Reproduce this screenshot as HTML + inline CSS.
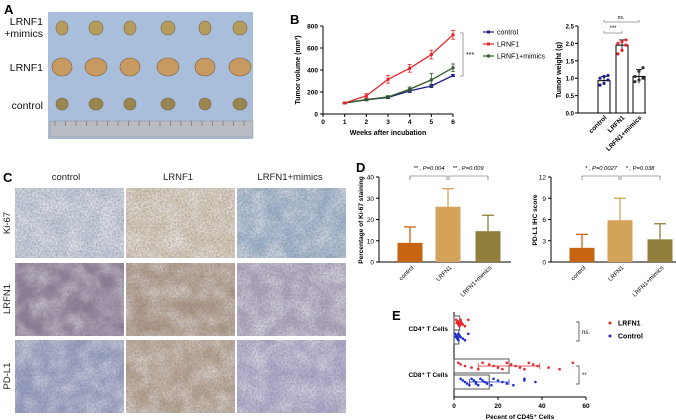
<!DOCTYPE html>
<html><head><meta charset="utf-8"><style>
body{margin:0;background:#fff}
svg{display:block;font-family:"Liberation Sans",Arial,sans-serif}
</style></head><body>
<svg id="fig" width="676" height="420" viewBox="0 0 676 420">
<defs>
<filter id="tex" x="0" y="0" width="100%" height="100%">
<feTurbulence type="fractalNoise" baseFrequency="0.55" numOctaves="2" seed="3"/>
<feColorMatrix type="matrix" values="0 0 0 0 0.2  0 0 0 0 0.18  0 0 0 0 0.25  0 0 0 -2.2 1.5"/>
<feComposite in2="SourceGraphic" operator="in"/>
</filter>
<filter id="tex2" x="0" y="0" width="100%" height="100%">
<feTurbulence type="fractalNoise" baseFrequency="0.06" numOctaves="3" seed="8"/>
<feColorMatrix type="matrix" values="0 0 0 0 1  0 0 0 0 1  0 0 0 0 1  0 0 0 -1.5 1.1"/>
<feComposite in2="SourceGraphic" operator="in"/>
</filter>
</defs>

<!-- Panel A -->
<g>
<text x="4" y="14" font-size="13" font-weight="bold">A</text>
<rect x="48" y="12" width="205" height="127" fill="#a9bedb"/>
<rect x="50" y="121" width="203" height="16" fill="#b9bcc2" stroke="#8d939c" stroke-width="0.5"/>
<g id="tumors"></g>
<g font-size="10.5" text-anchor="end" fill="#111">
<text x="43" y="25">LRNF1</text>
<text x="43" y="37">+mimics</text>
<text x="43" y="71">LRNF1</text>
<text x="43" y="109">control</text>
</g>
</g>

<!-- Panel B -->
<g>
<text x="290" y="24" font-size="13" font-weight="bold">B</text>
<g id="lineChart"></g>
<g id="weightChart"></g>
</g>

<!-- Panel C -->
<g>
<text x="3" y="182" font-size="13" font-weight="bold">C</text>
<g font-size="9.5" text-anchor="middle" fill="#222">
<text x="66" y="180">control</text>
<text x="178" y="180">LRNF1</text>
<text x="290" y="180">LRFN1+mimics</text>
</g>
<g font-size="9.5" text-anchor="middle" fill="#222">
<text transform="translate(10,223) rotate(-90)">Ki-67</text>
<text transform="translate(10,299) rotate(-90)">LRFN1</text>
<text transform="translate(10,376) rotate(-90)">PD-L1</text>
</g>
<g id="ihc"></g>
</g>

<!-- Panel D -->
<g>
<text x="356" y="172" font-size="13" font-weight="bold">D</text>
<g id="dLeft"></g>
<g id="dRight"></g>
</g>

<!-- Panel E -->
<g>
<text x="392" y="320" font-size="13" font-weight="bold">E</text>
<g id="eChart"></g>
</g>
</svg>

<script>
// ---- data ----
const weeks = [1,2,3,4,5,6];
const volControl = [100,130,150,210,255,350];
const volControlErr = [5,8,10,15,15,10];
const volLRNF1 = [100,165,315,415,540,720];
const volLRNF1Err = [5,20,35,35,40,40];
const volMimics = [100,130,155,225,310,420];
const volMimicsErr = [5,8,12,20,60,35];
const volTicks = [0,200,400,600,800];
const weekTicks = [0,1,2,3,4,5,6];

const weightGroups = ["control","LRFN1","LRFN1+mimics"];
const weightMeans = [0.93,1.95,1.05];
const weightSD = [0.12,0.15,0.2];
const weightPtsControl = [0.8,0.85,0.95,1.0,1.05,1.08];
const weightPtsLRFN1 = [1.7,1.8,1.95,2.0,2.05,2.1];
const weightPtsMimics = [0.9,0.95,1.0,1.05,1.2,1.3];
const weightTicks = [0,0.5,1.0,1.5,2.0,2.5];

const ki67Groups = ["control","LRFN1","LRFN1+mimics"];
const ki67Means = [9,26,14.5];
const ki67SD = [7.5,8.5,7.5];
const ki67Ticks = [0,10,20,30,40];
const pdl1Means = [2,5.9,3.2];
const pdl1SD = [1.9,3.1,2.2];
const pdl1Ticks = [0,3,6,9,12];

const cd4Red = [1,1.5,2,2,2.5,3,3,3.5,4,5,6.5,2.2,1.2,2.8];
const cd4Blue = [0.5,1,1.5,1.5,2,2,2.5,3,4,5,6.5,1.2,0.8];
const cd8Red = [2,3,5,8,11,13,16,18,20,22,24,26,28,30,32,34,36,38,43,48,54];
const cd8Blue = [3,4,5,6,7,8,9,10,10,11,12,13,14,15,17,18,20,22,24,27,32,32,37];
const cd4RedMean = 2.6, cd4BlueMean = 2.2, cd8RedMean = 25, cd8RedSD = 14, cd8BlueMean = 16, cd8BlueSD = 9;
const eTicks = [0,20,40,60];

const NS = "http://www.w3.org/2000/svg";
function mk(parent, tag, attrs, text){
  const e = document.createElementNS(NS, tag);
  for (const k in attrs) e.setAttribute(k, attrs[k]);
  if (text !== undefined) e.textContent = text;
  parent.appendChild(e);
  return e;
}
function lin(d0,d1,r0,r1){ return v => r0 + (v-d0)/(d1-d0)*(r1-r0); }

// ---- Panel A tumors (decorative photo) ----
(function(){
  const g = document.getElementById('tumors');
  const xs = [62,96,130,168,205,240];
  const rows = [{y:28,rx:6,ry:7,c:"#b59a5c"},{y:67,rx:10,ry:9,c:"#c79a62"},{y:104,rx:6,ry:6,c:"#9b8550"}];
  rows.forEach((r,ri)=>xs.forEach((x,i)=>{
    const t = mk(g,'ellipse',{cx:x,cy:r.y,rx:r.rx+(i%2),ry:r.ry,fill:r.c,stroke:"#7a6540","stroke-width":0.6});
    
    
  }));
  for(let i=0;i<19;i++){
    const l = mk(g,'line',{x1:55+i*10.5,y1:121,x2:55+i*10.5,y2:126,stroke:"#555","stroke-width":0.5});
    
    
  }
})();

// ---- Line chart ----
(function(){
  const g = document.getElementById('lineChart');
  const x = lin(0,6,323,453), y = lin(0,800,114,26);
  mk(g,'line',{x1:323,y1:26,x2:323,y2:114,stroke:"#000","stroke-width":1});
  mk(g,'line',{x1:323,y1:114,x2:453,y2:114,stroke:"#000","stroke-width":1});
  volTicks.forEach(v=>{
    mk(g,'line',{x1:320,y1:y(v),x2:323,y2:y(v),stroke:"#000"});
    const t = mk(g,'text',{x:318,y:y(v)+2.5,"font-size":6.5,"text-anchor":"end","font-weight":"bold"},v);
    
    
  });
  weekTicks.forEach(v=>{
    mk(g,'line',{x1:x(v),y1:114,x2:x(v),y2:117,stroke:"#000"});
    const t = mk(g,'text',{x:x(v),y:124,"font-size":6.5,"text-anchor":"middle","font-weight":"bold"},v);
    
    
  });
  mk(g,'text',{x:388,y:135,"font-size":7,"text-anchor":"middle","font-weight":"bold"},"Weeks after incubation");
  mk(g,'text',{transform:"translate(300,70) rotate(-90)","font-size":7,"text-anchor":"middle","font-weight":"bold"},"Tumor volume (mm³)");
  const series = [[volControl,volControlErr,"#1c1f8a","control"],[volMimics,volMimicsErr,"#2f5a2a","mimics"],[volLRNF1,volLRNF1Err,"#e4262a","lrnf1"]];
  series.forEach(([vals,errs,c,n])=>{
    const pl = mk(g,'polyline',{points:vals.map((v,i)=>x(weeks[i])+","+y(v)).join(" "),fill:"none",stroke:c,"stroke-width":1.3});
    
    
    vals.forEach((v,i)=>{
      const cx=x(weeks[i]);
      mk(g,'line',{x1:cx,y1:y(v-errs[i]),x2:cx,y2:y(v+errs[i]),stroke:c,"stroke-width":0.8});
      mk(g,'line',{x1:cx-2,y1:y(v+errs[i]),x2:cx+2,y2:y(v+errs[i]),stroke:c,"stroke-width":0.8});
      mk(g,'line',{x1:cx-2,y1:y(v-errs[i]),x2:cx+2,y2:y(v-errs[i]),stroke:c,"stroke-width":0.8});
      const p = mk(g,'rect',{x:cx-1.5,y:y(v)-1.5,width:3,height:3,fill:c});
      
      
    });
  });
  mk(g,'path',{d:"M460 33 H463 V76 H460",fill:"none",stroke:"#777","stroke-width":0.7});
  mk(g,'text',{x:466,y:57,"font-size":7},"***");
  const leg=[["control","#1c1f8a",32],["LRNF1","#e4262a",44],["LRNF1+mimics","#2f5a2a",56]];
  leg.forEach(([t,c,yy])=>{
    mk(g,'line',{x1:483,y1:yy,x2:494,y2:yy,stroke:c,"stroke-width":1.2});
    mk(g,'rect',{x:487,y:yy-1.5,width:3,height:3,fill:c});
    const tx = mk(g,'text',{x:497,y:yy+2.5,"font-size":7},t);
    
    
  });
})();

// ---- Weight chart ----
(function(){
  const g = document.getElementById('weightChart');
  const y = lin(0,2.5,113,26);
  const xs = [604,622,639];
  mk(g,'line',{x1:578,y1:26,x2:578,y2:113,stroke:"#000"});
  mk(g,'line',{x1:578,y1:113,x2:646,y2:113,stroke:"#000"});
  weightTicks.forEach(v=>{
    mk(g,'line',{x1:575,y1:y(v),x2:578,y2:y(v),stroke:"#000"});
    mk(g,'text',{x:574,y:y(v)+2.5,"font-size":6,"text-anchor":"end","font-weight":"bold"},v.toFixed(1));
  });
  mk(g,'text',{transform:"translate(561,70) rotate(-90)","font-size":7,"text-anchor":"middle","font-weight":"bold"},"Tumor weight (g)");
  const pts=[weightPtsControl,weightPtsLRFN1,weightPtsMimics], cols=["#1c1f8a","#e4262a","#333"];
  weightMeans.forEach((m,i)=>{
    const b = mk(g,'rect',{x:xs[i]-6,y:y(m),width:12,height:113-y(m),fill:"#fff",stroke:"#000","stroke-width":1});
    
    
    mk(g,'line',{x1:xs[i],y1:y(m-weightSD[i]),x2:xs[i],y2:y(m+weightSD[i]),stroke:"#000","stroke-width":0.8});
    mk(g,'line',{x1:xs[i]-3,y1:y(m+weightSD[i]),x2:xs[i]+3,y2:y(m+weightSD[i]),stroke:"#000","stroke-width":0.8});
    pts[i].forEach((v,j)=>{
      const d = mk(g,'circle',{cx:xs[i]-4+(j%3)*4,cy:y(v),r:1.6,fill:cols[i]});
      
      
    });
    const t = mk(g,'text',{transform:`translate(${xs[i]+3},118) rotate(-45)`,"font-size":6.5,"text-anchor":"end","font-weight":"bold"},weightGroups[i]);
    
    
  });
  mk(g,'path',{d:"M604 31 V33 H622 V31",fill:"none",stroke:"#555","stroke-width":0.6});
  mk(g,'text',{x:613,y:30,"font-size":6,"text-anchor":"middle"},"***");
  mk(g,'path',{d:"M604 20 V22 H639 V20",fill:"none",stroke:"#555","stroke-width":0.6});
  mk(g,'text',{x:621,y:19,"font-size":5,"text-anchor":"middle"},"ns.");
})();

// ---- IHC images (decorative) ----
(function(){
  const g = document.getElementById('ihc');
  const cols=[15,126,237], rows=[[188,70],[263,73],[340,73]];
  const colors=[["#c5cfdb","#d8ccb5","#9fb6cc"],["#8e7f96","#b09a84","#b0a8bf"],["#97a0c2","#b8a38c","#aeaccb"]];
  rows.forEach(([yy,h],ri)=>cols.forEach((xx,ci)=>{
    const r = mk(g,'rect',{x:xx,y:yy,width:109,height:h,fill:colors[ri][ci]});
    
    
    mk(g,'rect',{x:xx,y:yy,width:109,height:h,fill:"#fff",filter:"url(#tex2)",opacity:0.55});
    mk(g,'rect',{x:xx,y:yy,width:109,height:h,fill:"#000",filter:"url(#tex)",opacity:0.45});
  }));
})();

// ---- D charts ----
function dChart(id, ax, xEnd, means, sds, ticks, ymax, title, ann, titleX){
  const g = document.getElementById(id);
  const y = lin(0,ymax,262,177);
  const colors=["#c8630f","#d4a35a","#8f7f3b"];
  const xs=[ax+31, ax+69, ax+109];
  mk(g,'line',{x1:ax,y1:177,x2:ax,y2:262,stroke:"#000"});
  mk(g,'line',{x1:ax,y1:262,x2:xEnd,y2:262,stroke:"#000"});
  ticks.forEach(v=>{
    mk(g,'line',{x1:ax-3,y1:y(v),x2:ax,y2:y(v),stroke:"#000"});
    mk(g,'text',{x:ax-5,y:y(v)+2.5,"font-size":6.5,"text-anchor":"end"},v);
  });
  mk(g,'text',{transform:`translate(${titleX},220) rotate(-90)`,"font-size":6.5,"text-anchor":"middle","font-weight":"bold"},title);
  means.forEach((m,i)=>{
    const top=y(m+sds[i]);
    mk(g,'line',{x1:xs[i],y1:top,x2:xs[i],y2:y(m),stroke:colors[i],"stroke-width":1.3});
    mk(g,'line',{x1:xs[i]-6,y1:top,x2:xs[i]+6,y2:top,stroke:colors[i],"stroke-width":1.3});
    const b = mk(g,'rect',{x:xs[i]-12.5,y:y(m),width:25,height:262-y(m),fill:colors[i]});
    
    
    const t = mk(g,'text',{transform:`translate(${xs[i]+4},268) rotate(-45)`,"font-size":6,"text-anchor":"end"},ki67Groups[i]);
    
    
  });
  mk(g,'path',{d:`M${xs[0]} 180 V176 H${xs[1]-1} V180`,fill:"none",stroke:"#555","stroke-width":0.6});
  mk(g,'path',{d:`M${xs[1]+1} 180 V176 H${xs[2]} V180`,fill:"none",stroke:"#555","stroke-width":0.6});
  mk(g,'text',{x:(xs[0]+xs[1])/2,y:170,"font-size":5.8,"text-anchor":"middle","font-style":"italic"},ann[0]);
  mk(g,'text',{x:(xs[1]+xs[2])/2,y:170,"font-size":5.8,"text-anchor":"middle","font-style":"italic"},ann[1]);
}
dChart('dLeft',379,511,ki67Means,ki67SD,ki67Ticks,40,"Percentage of Ki-67 staining",["** , P=0.004","** , P=0.009"],363);
dChart('dRight',551,676,pdl1Means,pdl1SD,pdl1Ticks,12,"PD-L1 IHC score",["* , P=0.0027","* , P=0.038"],537);

// ---- E chart ----
(function(){
  const g = document.getElementById('eChart');
  const x = lin(0,60,454,586);
  mk(g,'line',{x1:454,y1:312,x2:454,y2:397,stroke:"#000"});
  mk(g,'line',{x1:454,y1:397,x2:586,y2:397,stroke:"#000"});
  eTicks.forEach(v=>{
    mk(g,'line',{x1:x(v),y1:397,x2:x(v),y2:400,stroke:"#000"});
    mk(g,'text',{x:x(v),y:408,"font-size":6.5,"text-anchor":"middle","font-weight":"bold"},v);
  });
  mk(g,'text',{x:520,y:419,"font-size":6.5,"text-anchor":"middle","font-weight":"bold"},"Pecent of CD45⁺ Cells");
  mk(g,'text',{x:448,y:331,"font-size":6.5,"text-anchor":"end","font-weight":"bold"},"CD4⁺ T Cells");
  mk(g,'text',{x:448,y:377,"font-size":6.5,"text-anchor":"end","font-weight":"bold"},"CD8⁺ T Cells");
  const rows=[[cd4Red,cd4RedMean,0,323,"#e4262a"],[cd4Blue,cd4BlueMean,0,337,"#1d2fd0"],[cd8Red,cd8RedMean,cd8RedSD,366,"#e4262a"],[cd8Blue,cd8BlueMean,cd8BlueSD,382,"#1d2fd0"]];
  rows.forEach(([pts,m,sd,cy,c],ri)=>{
    const b = mk(g,'rect',{x:454,y:cy-7,width:x(m)-454,height:14,fill:"none",stroke:"#444","stroke-width":0.9});
    
    
    if(sd){
      mk(g,'line',{x1:x(m-sd),y1:cy,x2:x(m+sd),y2:cy,stroke:c,"stroke-width":0.7});
      mk(g,'line',{x1:x(m-sd),y1:cy-3,x2:x(m-sd),y2:cy+3,stroke:c,"stroke-width":0.7});
      mk(g,'line',{x1:x(m+sd),y1:cy-3,x2:x(m+sd),y2:cy+3,stroke:c,"stroke-width":0.7});
    }
    pts.forEach((v,j)=>{
      const d = mk(g,'circle',{cx:x(v),cy:cy+((j%5)-2)*1.6,r:1.3,fill:c});
      
      
    });
  });
  mk(g,'path',{d:"M576 322 H579 V341 H576",fill:"none",stroke:"#333","stroke-width":0.7});
  mk(g,'text',{x:582,y:334,"font-size":6},"ns.");
  mk(g,'path',{d:"M576 366 H579 V384 H576",fill:"none",stroke:"#333","stroke-width":0.7});
  mk(g,'text',{x:582,y:377,"font-size":6},"**");
  [["LRFN1","#e4262a",323],["Control","#1d2fd0",336]].forEach(([t,c,yy])=>{
    mk(g,'circle',{cx:610,cy:yy,r:1.5,fill:c});
    const tx = mk(g,'text',{x:618,y:yy+2.5,"font-size":7,"font-weight":"bold"},t);
    
    
  });
})();
</script>
</body></html>
